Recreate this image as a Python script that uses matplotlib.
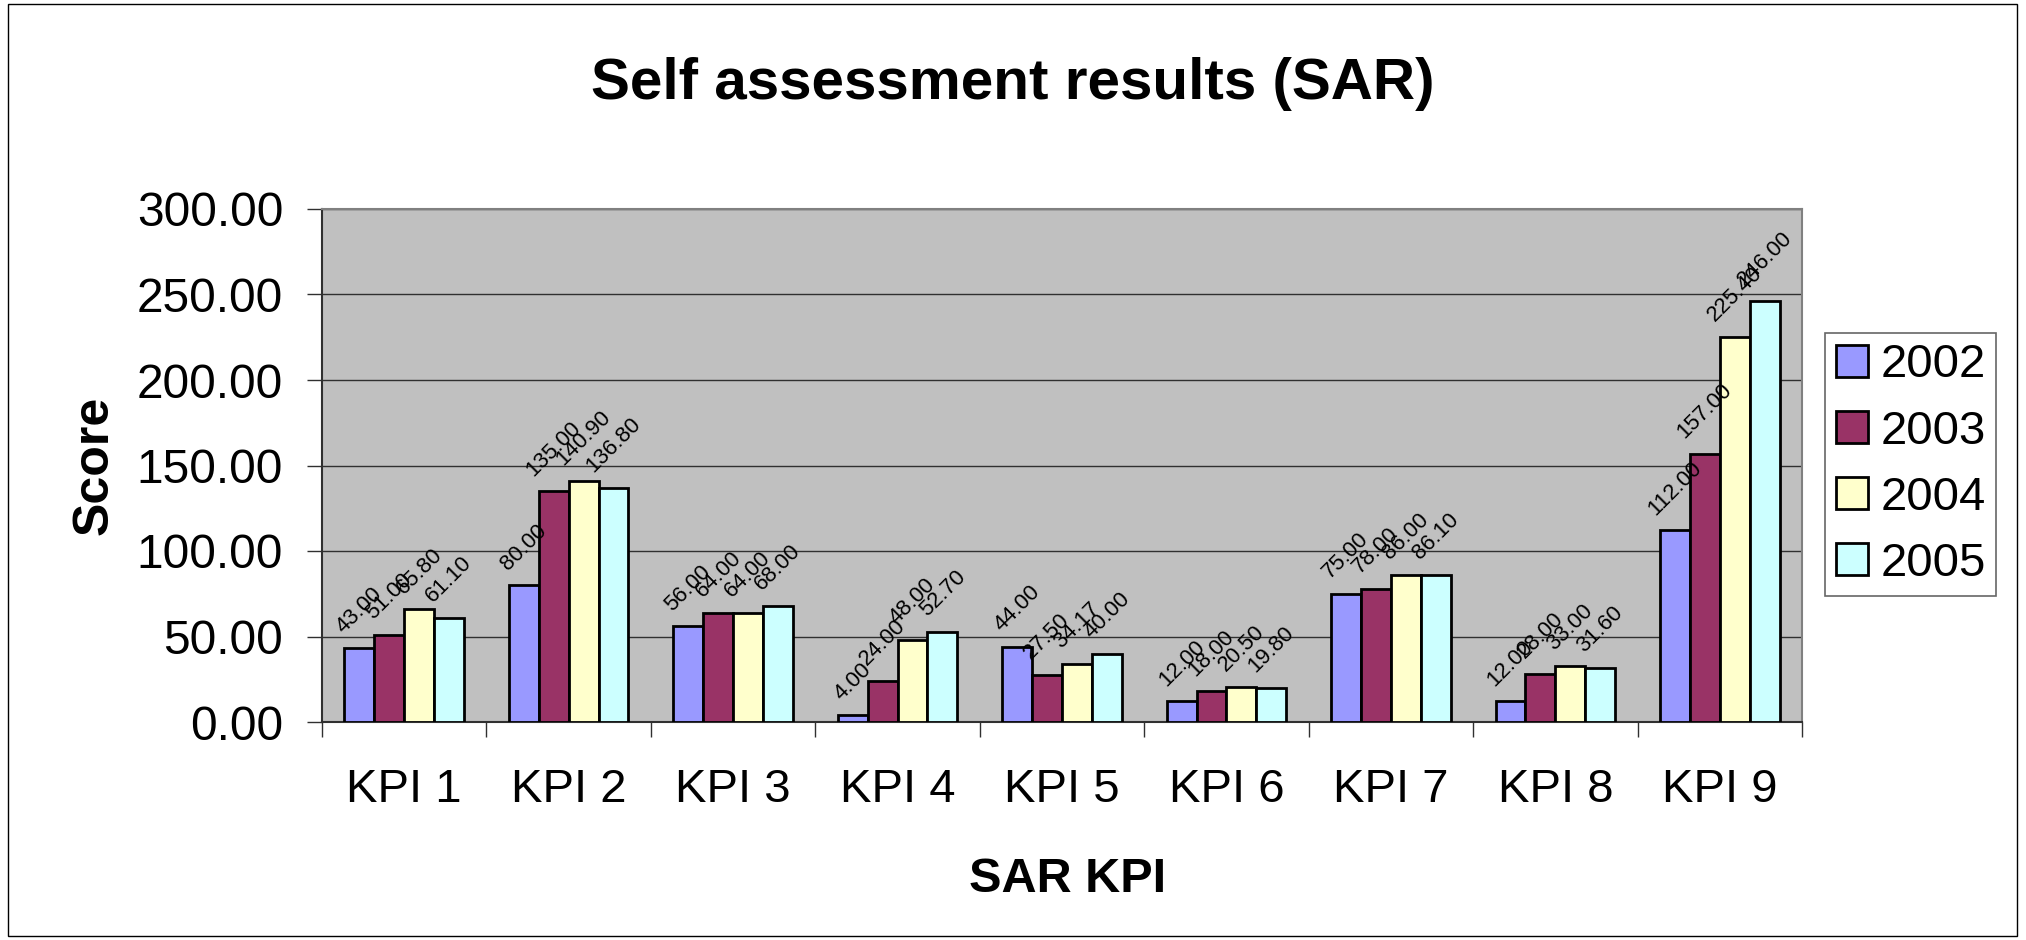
import numpy as np
import matplotlib
matplotlib.use('Agg')
import matplotlib.pyplot as plt
from matplotlib.patches import Rectangle
from matplotlib.lines import Line2D

plt.rcParams['font.family'] = ['Liberation Sans', 'DejaVu Sans']

# Данные
kpis = ['KPI 1', 'KPI 2', 'KPI 3', 'KPI 4', 'KPI 5', 'KPI 6', 'KPI 7', 'KPI 8', 'KPI 9']
years = ['2002', '2003', '2004', '2005']
s2002 = [43.00, 80.00, 56.00, 4.00, 44.00, 12.00, 75.00, 12.00, 112.00]
s2003 = [51.00, 135.00, 64.00, 24.00, 27.50, 18.00, 78.00, 28.00, 157.00]
s2004 = [65.80, 140.90, 64.00, 48.00, 34.17, 20.50, 86.00, 33.00, 225.40]
s2005 = [61.10, 136.80, 68.00, 52.70, 40.00, 19.80, 86.10, 31.60, 246.00]
series = [s2002, s2003, s2004, s2005]
colors = ['#9999FF', '#993366', '#FFFFCC', '#CCFFFF']

fig = plt.figure(figsize=(20.26, 9.4), dpi=100)
ax = fig.add_axes([322 / 2026, 1 - 722 / 940, 1480 / 2026, 513 / 940])
ax.set_facecolor('#C0C0C0')

x = np.arange(len(kpis))
w = 1 / 5.5
for i, (vals, c, yr) in enumerate(zip(series, colors, years)):
    xs = x + (i - 1.5) * w
    ax.bar(xs, vals, width=w, color=c, edgecolor='black', linewidth=2, label=yr, zorder=3)
    for xi, v in zip(xs, vals):
        ax.annotate(f'{v:.2f}', (xi, v), xytext=(0, 8), textcoords='offset points',
                    ha='center', va='bottom', rotation=45, fontsize=16, zorder=4)

ax.set_xlim(-0.5, len(kpis) - 0.5)
ax.set_ylim(0, 300)
ax.set_yticks(np.arange(0, 301, 50))
ax.set_yticklabels([f'{t:.2f}' for t in np.arange(0, 301, 50)])
ax.yaxis.grid(True, color='#303030', linewidth=1)
ax.set_axisbelow(True)

ax.set_xticks(x)
ax.set_xticklabels(kpis)
ax.set_xticks(np.arange(-0.5, len(kpis)), minor=True)
ax.tick_params(axis='x', which='major', length=0, pad=33, labelsize=34)
ax.tick_params(axis='x', which='minor', length=11, width=1, color='#303030')
ax.tick_params(axis='y', length=11, width=1, color='#303030', pad=17, labelsize=34.5)

for s in ['top', 'right']:
    ax.spines[s].set_color('#808080')
    ax.spines[s].set_linewidth(1.5)
for s in ['left', 'bottom']:
    ax.spines[s].set_color('#303030')
    ax.spines[s].set_linewidth(1.5)

ax.set_xlabel('SAR KPI', fontsize=35, fontweight='bold')
ax.xaxis.set_label_coords(0.504, -0.263)
ax.set_ylabel('Score', fontsize=36, fontweight='bold')
ax.yaxis.set_label_coords(-0.138, 0.5)

fig.text(1013 / 2026, 1 - 84 / 940, 'Self assessment results (SAR)',
         ha='center', va='center', fontsize=42, fontweight='bold')

# Легенда с квадратными маркерами
handles = [Line2D([], [], marker='s', linestyle='none', markersize=23,
                  markerfacecolor=c, markeredgecolor='black', markeredgewidth=2)
           for c in colors]
leg = fig.legend(handles, years, loc='upper left', bbox_to_anchor=(1825 / 2026, 1 - 333 / 940),
                 fontsize=34, frameon=True, fancybox=False, borderaxespad=0,
                 handlelength=0.7, handletextpad=0.25, labelspacing=0.47,
                 borderpad=0.22)
leg.get_frame().set_edgecolor('#404040')
leg.get_frame().set_linewidth(1.2)

fig.patches.append(Rectangle((8 / 2026, 4 / 940), 2009 / 2026, 932 / 940,
                             transform=fig.transFigure, fill=False,
                             edgecolor='black', linewidth=1))

fig.savefig('out.png', dpi=100)
